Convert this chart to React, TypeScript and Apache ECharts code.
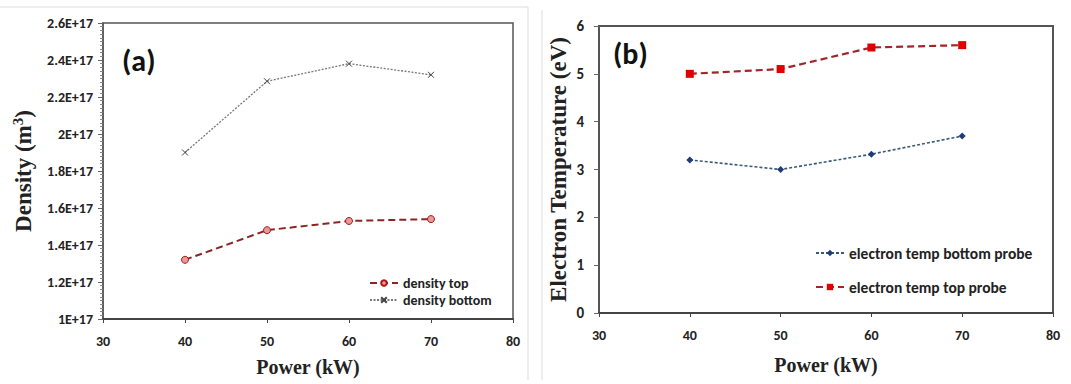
import React, { useEffect, useRef } from "react";
import * as echarts from "echarts";

const powerKW = [40, 50, 60, 70];
const densityTop = [1.32e17, 1.48e17, 1.53e17, 1.54e17];
const densityBottom = [1.9e17, 2.285e17, 2.38e17, 2.32e17];
const tempBottomProbe = [3.2, 3.0, 3.32, 3.7];
const tempTopProbe = [5.0, 5.1, 5.55, 5.6];

const SANS = "Carlito, Lato, 'Open Sans', sans-serif";
const SERIF = "'Liberation Serif', 'DejaVu Serif', serif";

const pairs = (xs: number[], ys: number[]) => xs.map((x, i) => [x, ys[i]]);

export default function App() {
  const ref = useRef<HTMLDivElement>(null);
  useEffect(() => {
    document.body.style.margin = "0";
    const chart = echarts.init(ref.current!, null, { renderer: "svg" });
    const tickLabel = { color: "#222", fontFamily: SANS, fontWeight: "bold", fontSize: 14 };
    const option: any = {
      animation: false,
      backgroundColor: "#fff",
      grid: [
        { left: 103, top: 23, width: 410, height: 296, show: true, borderColor: "#555", borderWidth: 1.5, backgroundColor: "transparent" },
        { left: 599, top: 26, width: 454, height: 287, show: true, borderColor: "#555", borderWidth: 2, backgroundColor: "transparent" },
      ],
      xAxis: [
        {
          type: "value", gridIndex: 0, min: 30, max: 80, interval: 10,
          name: "Power (kW)", nameLocation: "middle", nameGap: 38,
          nameTextStyle: { fontFamily: SERIF, fontWeight: "bold", fontSize: 20, color: "#222" },
          axisLine: { show: true, lineStyle: { color: "#444", width: 2 } },
          axisTick: { show: true, length: 4, lineStyle: { color: "#444" } },
          axisLabel: { ...tickLabel, margin: 15 },
          splitLine: { show: false },
        },
        {
          type: "value", gridIndex: 1, min: 30, max: 80, interval: 10,
          name: "Power (kW)", nameLocation: "middle", nameGap: 42,
          nameTextStyle: { fontFamily: SERIF, fontWeight: "bold", fontSize: 20, color: "#222" },
          axisLine: { show: true, lineStyle: { color: "#444", width: 2 } },
          axisTick: { show: true, length: 4, lineStyle: { color: "#444" } },
          axisLabel: { ...tickLabel, margin: 15 },
          splitLine: { show: false },
        },
      ],
      yAxis: [
        {
          type: "value", gridIndex: 0, min: 1e17, max: 2.6e17, interval: 0.2e17,
          name: "{a|Density (m}{s|3}{a|)}", nameLocation: "middle", nameGap: 66,
          nameTextStyle: {
            rich: {
              a: { fontFamily: SERIF, fontWeight: "bold", fontSize: 23, color: "#222" },
              s: { fontFamily: SERIF, fontWeight: "bold", fontSize: 15, color: "#222", verticalAlign: "top", padding: [0, 0, 12, 0] },
            },
          },
          axisLine: { show: true, lineStyle: { color: "#555", width: 1.5 } },
          axisTick: { show: true, length: 5, lineStyle: { color: "#666" } },
          minorTick: { show: true, splitNumber: 10, length: 3, lineStyle: { color: "#888" } },
          axisLabel: {
            ...tickLabel, fontSize: 14, margin: 10,
            formatter: (v: number) => `${Math.round(v / 1e16) / 10}E+17`,
          },
          splitLine: { show: false },
        },
        {
          type: "value", gridIndex: 1, min: 0, max: 6, interval: 1,
          name: "Electron Temperature (eV)", nameLocation: "middle", nameGap: 29,
          nameTextStyle: { fontFamily: SERIF, fontWeight: "bold", fontSize: 23, color: "#222" },
          axisLine: { show: true, lineStyle: { color: "#555", width: 2 } },
          axisTick: { show: true, length: 5, lineStyle: { color: "#666" } },
          axisLabel: { ...tickLabel, fontSize: 15, margin: 15 },
          splitLine: { show: false },
        },
      ],
      legend: [
        {
          left: 364, top: 271, orient: "vertical", itemGap: 3, itemWidth: 28, itemHeight: 7,
          textStyle: { fontFamily: SANS, fontWeight: "bold", fontSize: 14, color: "#222" },
          data: ["density top", "density bottom"],
        },
        {
          left: 810, top: 240, orient: "vertical", itemGap: 18, itemWidth: 28, itemHeight: 8,
          textStyle: { fontFamily: SANS, fontWeight: "bold", fontSize: 15.5, color: "#222" },
          data: ["electron temp bottom probe", "electron temp top probe"],
        },
      ],
      series: [
        {
          name: "density top", type: "line", xAxisIndex: 0, yAxisIndex: 0,
          data: pairs(powerKW, densityTop),
          symbol: "circle", symbolSize: 7,
          lineStyle: { color: "#8B2525", width: 2, type: [7, 4] },
          itemStyle: { color: "#e59a9a", borderColor: "#b01515", borderWidth: 1 },
        },
        {
          name: "density bottom", type: "line", xAxisIndex: 0, yAxisIndex: 0,
          data: pairs(powerKW, densityBottom),
          symbol: "path://M0,0L10,10M10,0L0,10", symbolSize: 6,
          lineStyle: { color: "#777", width: 1.3, type: [2, 1.5] },
          itemStyle: { color: "transparent", borderColor: "#444", borderWidth: 1 },
        },
        {
          name: "electron temp bottom probe", type: "line", xAxisIndex: 1, yAxisIndex: 1,
          data: pairs(powerKW, tempBottomProbe),
          symbol: "diamond", symbolSize: 7,
          lineStyle: { color: "#3A5878", width: 1.6, type: [3, 2] },
          itemStyle: { color: "#1F3C78" },
        },
        {
          name: "electron temp top probe", type: "line", xAxisIndex: 1, yAxisIndex: 1,
          data: pairs(powerKW, tempTopProbe),
          symbol: "rect", symbolSize: 8,
          lineStyle: { color: "#A0262C", width: 2.2, type: [7, 4] },
          itemStyle: { color: "#E00000" },
        },
      ],
      graphic: [
        { type: "text", left: 122, top: 45, style: { text: "(a)", fontFamily: SANS, fontWeight: "bold", fontSize: 30, fill: "#111" } },
        { type: "text", left: 613, top: 38, style: { text: "(b)", fontFamily: SANS, fontWeight: "bold", fontSize: 30, fill: "#111" } },
        { type: "line", shape: { x1: 0, y1: 7, x2: 528, y2: 7 }, style: { stroke: "#ddd", lineWidth: 1 } },
        { type: "line", shape: { x1: 528, y1: 7, x2: 528, y2: 380 }, style: { stroke: "#ddd", lineWidth: 1 } },
        { type: "line", shape: { x1: 542, y1: 10, x2: 542, y2: 380 }, style: { stroke: "#ddd", lineWidth: 1 } },
      ],
    };
    chart.setOption(option);
    return () => chart.dispose();
  }, []);
  return <div ref={ref} style={{ width: 1071, height: 384 }} />;
}
